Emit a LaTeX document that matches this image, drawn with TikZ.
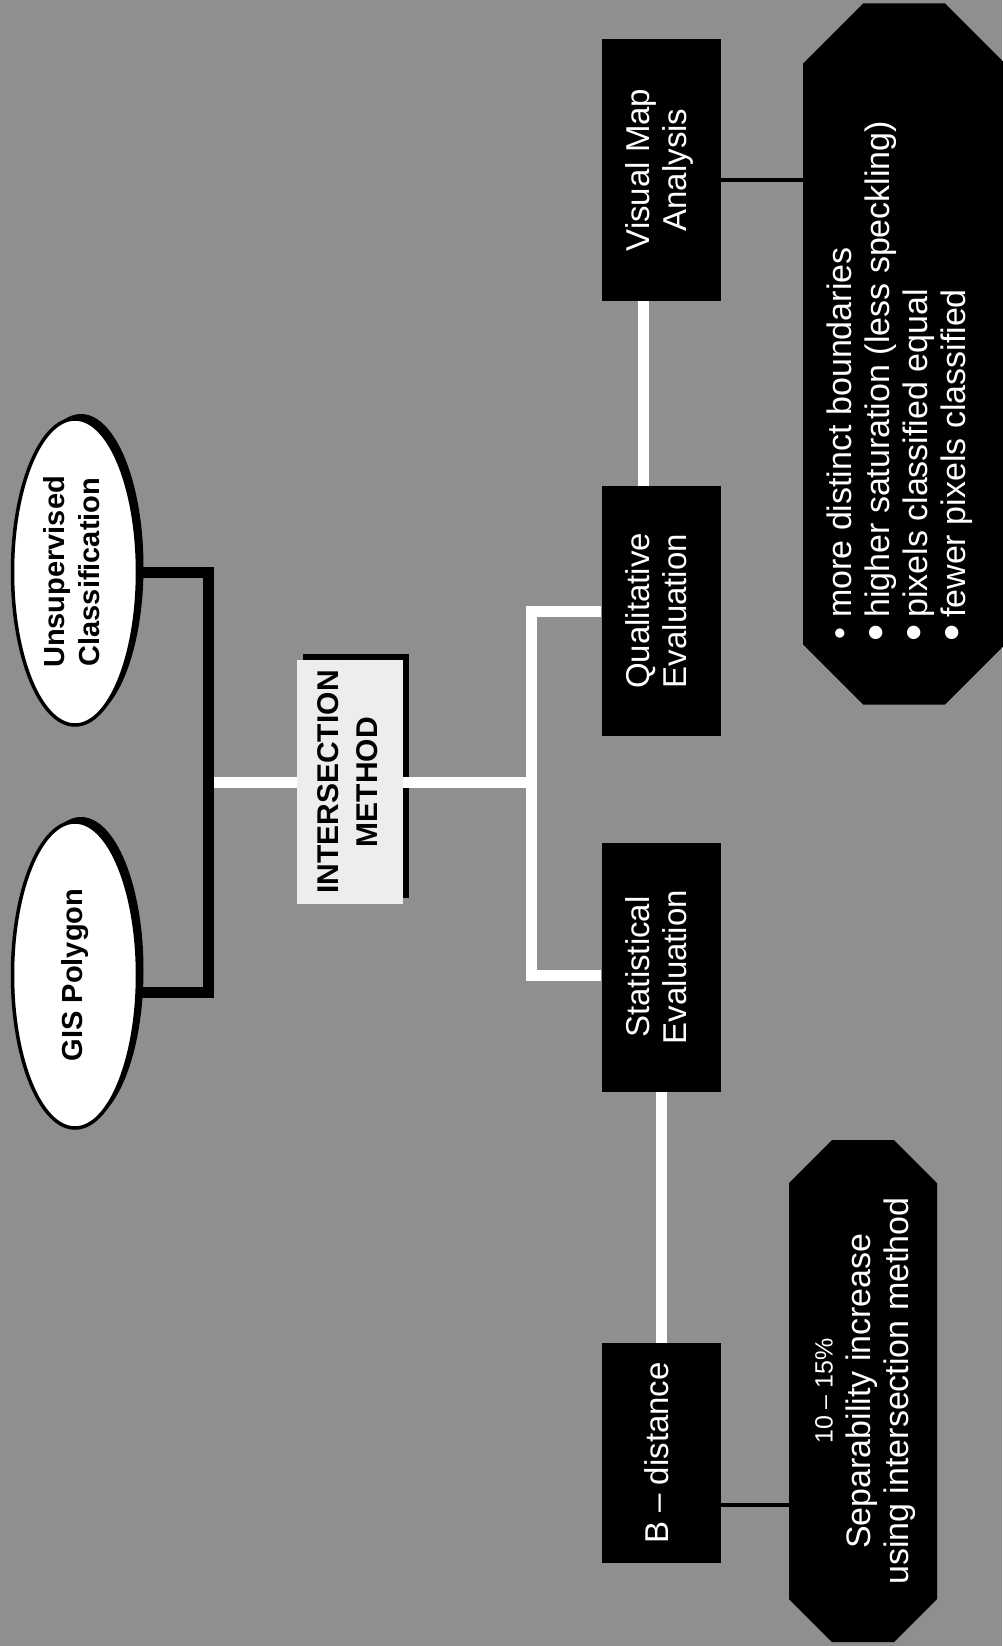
\documentclass[tikz,border=0pt]{standalone}
\usepackage{fontspec}
\setmainfont{Liberation Sans}
\usepackage{graphicx}
\usepackage{xcolor}
\usepackage{tikz}
\usetikzlibrary{shapes.geometric,shadows,backgrounds,positioning}
\definecolor{paper}{gray}{0.56}
\definecolor{methodfill}{gray}{0.93}
\newcommand{\uptext}[2][c]{\rotatebox{90}{\begin{tabular}{@{}#1@{}}#2\end{tabular}}}
\newcommand{\smalldot}{\makebox[0.35em]{•}}
\newcommand{\bigdot}{\makebox[0.35em]{\raisebox{-0.08em}{\scalebox{1.45}{•}}}}
% black octagon on a note box: #1 node name, #2 cut size
\newcommand{\chamferfill}[2]{%
  \fill[black] ([xshift=#2]#1.north west) -- ([xshift=-#2]#1.north east)
    -- ([yshift=-#2]#1.north east) -- ([yshift=#2]#1.south east)
    -- ([xshift=-#2]#1.south east) -- ([xshift=#2]#1.south west)
    -- ([yshift=#2]#1.south west) -- ([yshift=-#2]#1.north west) -- cycle;}
\tikzset{
    source/.style={
        ellipse, draw=black, line width=3.5pt, fill=white, inner sep=0pt,
        minimum width=125pt, minimum height=306pt,
        font={\bfseries\fontsize{29}{35}\selectfont},
        drop shadow={shadow xshift=6pt, shadow yshift=5pt, fill=black, opacity=1}
    },
    method/.style={
        rectangle, fill=methodfill, inner sep=0pt,
        minimum width=106pt, minimum height=244pt,
        font={\bfseries\fontsize{30}{39}\selectfont},
        drop shadow={shadow xshift=6pt, shadow yshift=6pt, fill=black, opacity=1}
    },
    stage/.style={
        rectangle, fill=black, text=white, inner sep=0pt,
        minimum width=119pt,
        font={\fontsize{33}{37}\selectfont}
    },
    notebox/.style={rectangle, inner sep=0pt, outer sep=0pt},
    notetext/.style={
        inner sep=0pt, text=white,
        font={\fontsize{34}{38}\selectfont}
    },
    trunk/.style={draw=white, line width=11pt},
    bracket/.style={draw=black, line width=11pt, line join=miter},
    link/.style={draw=black, line width=4pt}
}

\begin{document}
\begin{tikzpicture}[x=1pt,y=-1pt]

\useasboundingbox (0,0) rectangle (1002,1646);
\begin{scope}[on background layer]
\fill[paper] (0,0) rectangle (1002,1646);
\end{scope}

% ---- sources (left) ----
\node[source] (unsup) at (75, 572) {\uptext{Unsupervised\\Classification}};
\node[source] (gis)   at (75, 975) {\uptext{GIS Polygon}};

% ---- method ----
\node[method] (inter) at (350, 782) {\uptext{INTERSECTION\\METHOD}};

% ---- evaluation stages ----
\node[stage, minimum height=262pt] (visual) at (661, 170)  {\uptext{Visual Map\\Analysis}};
\node[stage, minimum height=250pt] (qual)   at (661, 611)  {\uptext{Qualitative\\Evaluation}};
\node[stage, minimum height=249pt] (stat)   at (661, 967)  {\uptext{Statistical\\Evaluation}};
\node[stage, minimum height=220pt] (bdist)  at (661, 1453) {\uptext{B -- distance}};

% ---- result notes ----
\node[notebox, minimum width=202pt, minimum height=701pt] (effects) at (904, 354) {};
\node[notebox, minimum width=148pt, minimum height=502pt] (gain) at (863, 1391) {};
\begin{scope}[on background layer]
\chamferfill{effects}{60pt}
\chamferfill{gain}{43pt}
\end{scope}

\node[notetext] (effectsText) at ([xshift=-3pt, yshift=-26pt]effects.center)
      {\uptext[l]{\smalldot\ more distinct boundaries\\
                  \bigdot\ higher saturation (less speckling)\\
                  \bigdot\ pixels classified equal\\
                  \bigdot\ fewer pixels classified}};
\node[notetext] (gainText) at (gain.center)
      {\uptext{{\fontsize{25}{30}\selectfont 10 -- 15\%}\\
               Separability increase\\
               using intersection method}};

% white trunk lines
\coordinate (bar)   at (208, 782);
\coordinate (spine) at (531, 782);
\draw[trunk] (bar) -- (inter.west);
\draw[trunk] (inter.east) -- (spine);
\draw[trunk] (qual.west) -| (spine) |- ([yshift=-8pt]stat.west);
\draw[trunk] ([xshift=-18pt]qual.north) -- ([xshift=-18pt]visual.south);
\draw[trunk] (stat.south) -- (bdist.north);

% black bracket joining the sources
\draw[bracket] (unsup.east) -| (bar) |- (gis.-15);

% thin links to the notes
\draw[link] ([yshift=-10pt]visual.east) -- ([yshift=-10pt]visual.east -| effects.west);
\draw[link] ([yshift=-52pt]bdist.east) -- ([yshift=-52pt]bdist.east -| gain.west);

\end{tikzpicture}
\end{document}
